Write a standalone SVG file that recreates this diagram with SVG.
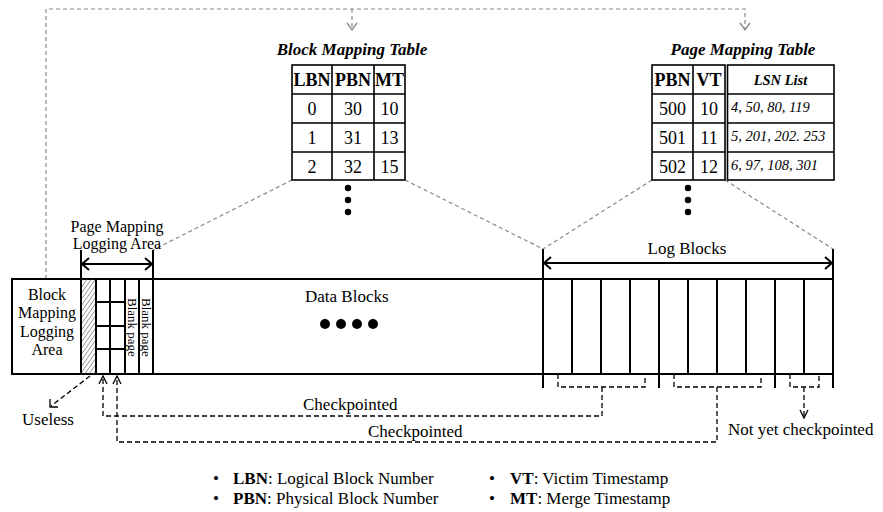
<svg xmlns="http://www.w3.org/2000/svg" width="883" height="512" viewBox="0 0 883 512">
<style>
text{font-family:"Liberation Serif","Times New Roman",serif;fill:#000}
.t17{font-size:17px}
.t16{font-size:16px}
.tb{font-size:18px;text-anchor:middle}
.bold{font-weight:bold}
.bi{font-weight:bold;font-style:italic;font-size:17px;text-anchor:middle}
.it{font-style:italic;font-size:14.5px}
.blk{fill:none;stroke:#000;stroke-width:2}
.tbl{fill:none;stroke:#000;stroke-width:1.6}
.gd{fill:none;stroke:#888;stroke-width:1.2;stroke-dasharray:4 3}
.bd{fill:none;stroke:#000;stroke-width:1.3;stroke-dasharray:5 3}
.gh{fill:none;stroke:#888;stroke-width:1.3}
.ch{fill:none;stroke:#000;stroke-width:1.3}
.ar{fill:none;stroke:#000;stroke-width:2}
</style>
<defs>
<pattern id="hatch" width="3.5" height="3.5" patternUnits="userSpaceOnUse" patternTransform="rotate(35)">
<line x1="0" y1="0" x2="0" y2="3.5" stroke="#555" stroke-width="1.1"/>
</pattern>
</defs>

<g id="connectors">
<path class="gd" d="M46,279 V9 H745 V30"/>
<path class="gd" d="M352,9 V30"/>
<path class="gh" d="M347,23 L352,30 L357,23"/>
<path class="gh" d="M740,23 L745,30 L750,23"/>
<path class="gd" d="M292,180 L153,250"/>
<path class="gd" d="M405,180 L543,249"/>
<path class="gd" d="M652,180 L543,249"/>
<path class="gd" d="M725,180 L833,249"/>
<path class="bd" d="M558,374 V387 H645 V374"/>
<path class="bd" d="M674,374 V387 H761 V374"/>
<path class="bd" d="M790,374 V387 H819 V374"/>
<path class="bd" d="M602,387 V416 H103 V377"/>
<path class="bd" d="M717,387 V442 H117 V377"/>
<path class="bd" d="M804,387 V416"/>
<path class="ch" d="M99,384 L103,376 L107,384"/>
<path class="ch" d="M113,384 L117,376 L121,384"/>
<path class="ch" d="M800,410 L804,418 L808,410"/>
<path class="bd" d="M90,376 L51,406"/>
<path class="ch" d="M50,399 L50,407 L58,407"/>
</g>

<g id="block-mapping-table">
<text class="bi" x="352" y="55">Block Mapping Table</text>
<rect class="tbl" x="292" y="65" width="113" height="115"/>
<path class="tbl" d="M332,65 V180 M374,65 V180 M292,94 H405 M292,123 H405 M292,152 H405"/>
<text class="tb bold" x="312" y="86">LBN</text>
<text class="tb bold" x="353" y="86">PBN</text>
<text class="tb bold" x="389.5" y="86">MT</text>
<text class="tb" x="312" y="115">0</text><text class="tb" x="353" y="115">30</text><text class="tb" x="389.5" y="115">10</text>
<text class="tb" x="312" y="144">1</text><text class="tb" x="353" y="144">31</text><text class="tb" x="389.5" y="144">13</text>
<text class="tb" x="312" y="173">2</text><text class="tb" x="353" y="173">32</text><text class="tb" x="389.5" y="173">15</text>
<circle cx="348" cy="188" r="3.2"/><circle cx="348" cy="200" r="3.2"/><circle cx="348" cy="212" r="3.2"/>
</g>

<g id="page-mapping-table">
<text class="bi" x="743" y="55">Page Mapping Table</text>
<rect class="tbl" x="652" y="65" width="73" height="115"/>
<path class="tbl" d="M693,65 V180 M652,94 H725 M652,123 H725 M652,152 H725"/>
<rect class="tbl" x="727.5" y="65" width="106.5" height="115"/>
<path class="tbl" d="M727.5,94 H834 M727.5,123 H834 M727.5,152 H834"/>
<text class="tb bold" x="672.5" y="86">PBN</text>
<text class="tb bold" x="709" y="86">VT</text>
<text class="it bold" x="780.5" y="85" text-anchor="middle">LSN List</text>
<text class="tb" x="672.5" y="115">500</text><text class="tb" x="709" y="115">10</text>
<text class="tb" x="672.5" y="144">501</text><text class="tb" x="709" y="144">11</text>
<text class="tb" x="672.5" y="173">502</text><text class="tb" x="709" y="173">12</text>
<text class="it" x="731" y="112">4, 50, 80, 119</text>
<text class="it" x="731" y="141">5, 201, 202. 253</text>
<text class="it" x="731" y="170">6, 97, 108, 301</text>
<circle cx="688" cy="188" r="3.2"/><circle cx="688" cy="200" r="3.2"/><circle cx="688" cy="212" r="3.2"/>
</g>

<g id="flash-strip">
<rect class="blk" x="12" y="279" width="821" height="95"/>
</g>

<g id="block-mapping-logging-area">
<text class="t16" x="47" y="300" text-anchor="middle">Block</text>
<text class="t16" x="47" y="318" text-anchor="middle">Mapping</text>
<text class="t16" x="47" y="337" text-anchor="middle">Logging</text>
<text class="t16" x="47" y="355" text-anchor="middle">Area</text>
</g>

<g id="page-mapping-logging-area">
<rect x="81" y="279" width="15" height="95" fill="url(#hatch)"/>
<path class="blk" d="M81,250 V374 M153,250 V374 M96,279 V374 M110,279 V374 M125,279 V374 M139,279 V374"/>
<path class="blk" d="M96,302 H125 M96,326 H125 M96,349 H125"/>
<text class="t16" x="117" y="232" text-anchor="middle">Page Mapping</text>
<text class="t16" x="117" y="249" text-anchor="middle">Logging  Area</text>
<path class="ar" d="M82,264 H152 M89,258 L82,264 L89,270 M145,258 L152,264 L145,270"/>
<text font-size="13" transform="translate(127.5,298) rotate(90)">Blank page</text>
<text font-size="13" transform="translate(142,298) rotate(90)">Blank page</text>
</g>

<g id="data-blocks">
<text class="t17" x="305" y="302">Data Blocks</text>
<circle cx="325" cy="324" r="5"/><circle cx="341" cy="324" r="5"/><circle cx="357" cy="324" r="5"/><circle cx="373" cy="324" r="5"/>
</g>

<g id="log-blocks">
<path class="blk" d="M543,249 V388 M833,249 V388 M659,279 V388 M775,279 V388"/>
<path class="blk" d="M572,279 V374 M601,279 V374 M630,279 V374 M688,279 V374 M717,279 V374 M746,279 V374 M804,279 V374"/>
<path class="ar" d="M544,263 H832 M551,257 L544,263 L551,269 M825,257 L832,263 L825,269"/>
<text class="t17" x="687" y="254" text-anchor="middle">Log Blocks</text>
</g>

<g id="labels">
<text class="t17" x="22" y="425">Useless</text>
<text class="t17" x="303" y="410">Checkpointed</text>
<text class="t17" x="368" y="437">Checkpointed</text>
<text class="t17" x="728" y="435">Not yet checkpointed</text>
</g>

<g id="legend">
<text class="t17" x="213" y="484">•</text>
<text class="t17" x="233" y="484"><tspan class="bold">LBN</tspan>: Logical Block Number</text>
<text class="t17" x="213" y="504">•</text>
<text class="t17" x="233" y="504"><tspan class="bold">PBN</tspan>: Physical Block Number</text>
<text class="t17" x="489" y="484">•</text>
<text class="t17" x="510" y="484"><tspan class="bold">VT</tspan>: Victim Timestamp</text>
<text class="t17" x="489" y="504">•</text>
<text class="t17" x="510" y="504"><tspan class="bold">MT</tspan>: Merge Timestamp</text>
</g>
</svg>
